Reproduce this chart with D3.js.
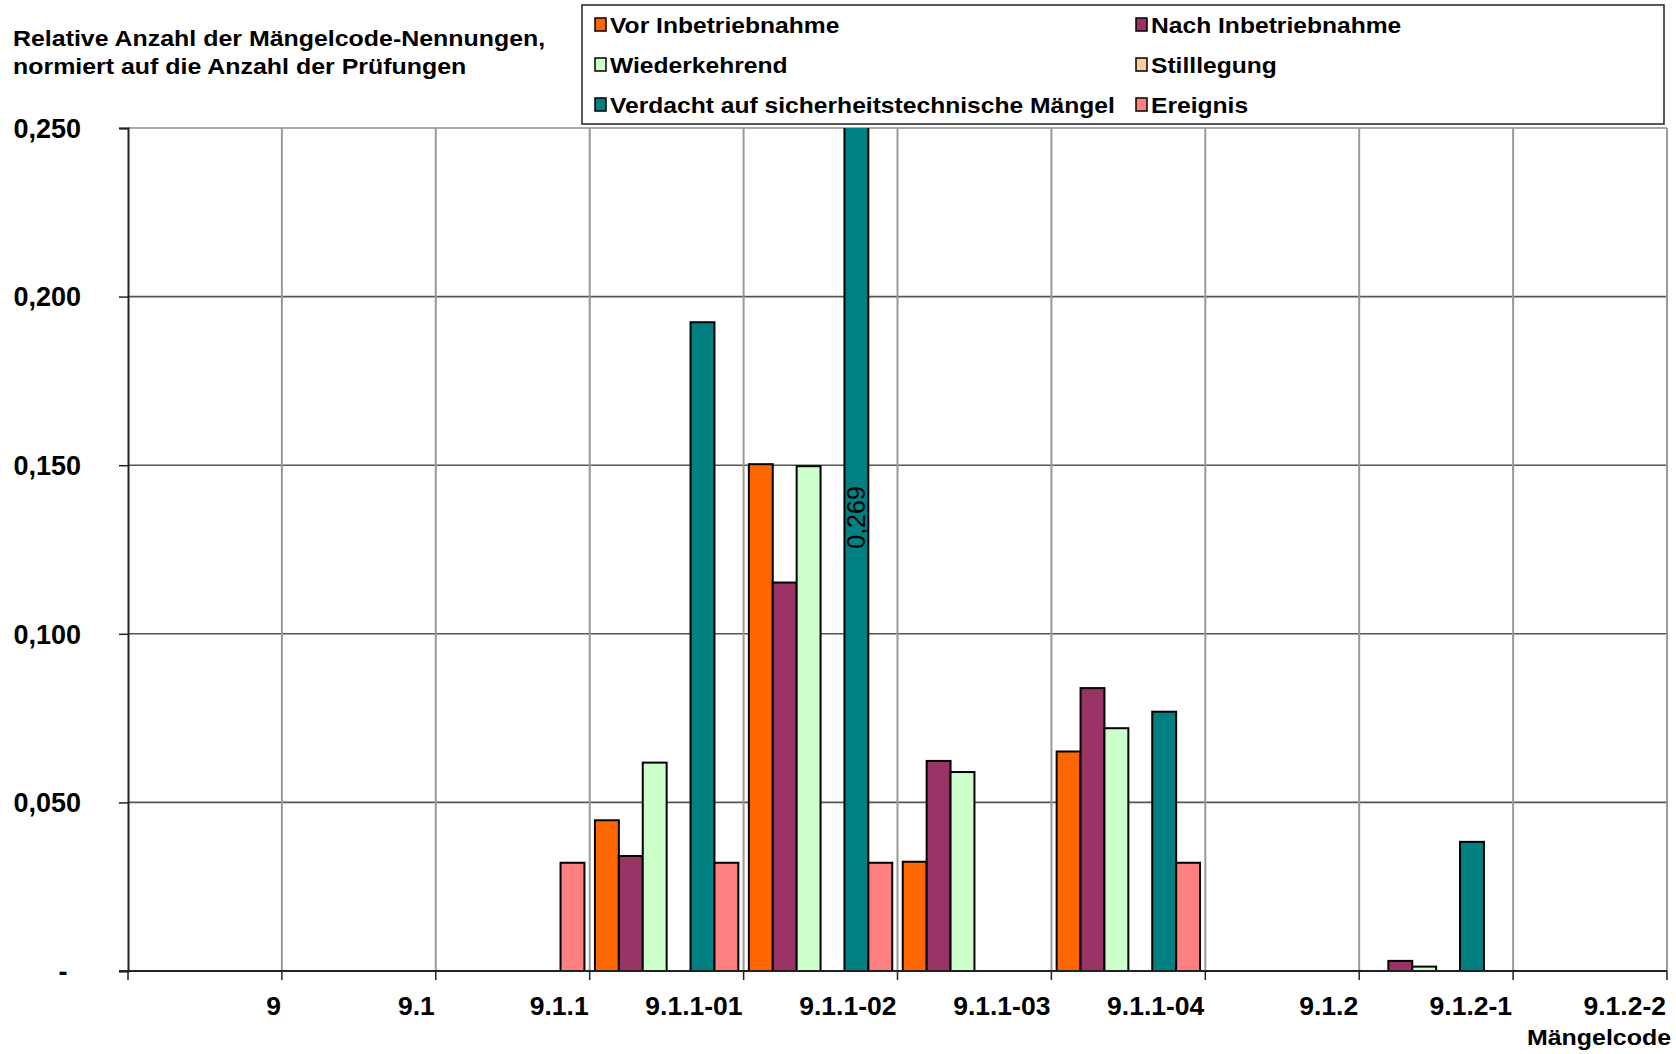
<!DOCTYPE html>
<html lang="de">
<head>
<meta charset="utf-8">
<script src="https://cdn.jsdelivr.net/npm/d3@7"></script>
<style>
  html, body { margin: 0; padding: 0; background: #fff; }
  svg { display: block; font-family: "Liberation Sans", Arial, sans-serif; }
</style>
</head>
<body>
<svg id="chart" width="1676" height="1054"></svg>
<script>
// Mängelcodes (x categories)
const categories = ["9", "9.1", "9.1.1", "9.1.1-01", "9.1.1-02", "9.1.1-03", "9.1.1-04", "9.1.2", "9.1.2-1", "9.1.2-2"];

// Series names, in drawing order within each group
const seriesNames = ["Vor Inbetriebnahme", "Nach Inbetriebnahme", "Wiederkehrend", "Stilllegung",
                     "Verdacht auf sicherheitstechnische Mängel", "Ereignis"];
const seriesColors = ["#FF6600", "#993366", "#CCFFCC", "#FFCC99", "#008080", "#FF8080"];

// Relative Anzahl je Prüfart, one value per Mängelcode
const vorInbetriebnahme  = [0, 0, 0, 0.0447, 0.1503, 0.0324, 0.0651, 0, 0, 0];
const nachInbetriebnahme = [0, 0, 0, 0.0341, 0.1152, 0.0623, 0.0839, 0, 0.0030, 0];
const wiederkehrend      = [0, 0, 0, 0.0618, 0.1497, 0.0590, 0.0720, 0, 0.0013, 0];
const stilllegung        = [0, 0, 0, 0, 0, 0, 0, 0, 0, 0];
const verdacht           = [0, 0, 0, 0.1924, 0.269, 0, 0.0769, 0, 0.0383, 0];
const ereignis           = [0, 0, 0.0321, 0.0321, 0.0321, 0, 0.0321, 0, 0, 0];

const seriesValues = [vorInbetriebnahme, nachInbetriebnahme, wiederkehrend, stilllegung, verdacht, ereignis];

// Value axis ticks
const yTicks = [0, 0.05, 0.10, 0.15, 0.20, 0.25];
const yTickLabels = ["-", "0,050", "0,100", "0,150", "0,200", "0,250"];

// Series with a printed value label
const labelledSeries = 4;
const labelledCategory = "9.1.1-02";

const svg = d3.select("#chart");
const plot = { left: 128, right: 1667, top: 128, bottom: 971 };
const wide = 1.16;        // horizontal stretch of the title lettering
const legendWide = 1.145; // horizontal stretch of the legend lettering

const x0 = d3.scaleBand().domain(categories).range([plot.left, plot.right]).paddingInner(0).paddingOuter(0);
const x1 = d3.scaleBand().domain(d3.range(seriesNames.length)).range([0, x0.bandwidth()])
  .paddingInner(0).paddingOuter(0.22);
const y = d3.scaleLinear().domain([0, 0.25]).range([plot.bottom, plot.top]);

// Horizontal gridlines
svg.append("g").selectAll("line").data(yTicks.slice(1)).join("line")
  .attr("x1", plot.left).attr("x2", plot.right)
  .attr("y1", d => y(d)).attr("y2", d => y(d))
  .attr("stroke", d => d === 0.25 ? "#8c8c8c" : "#555").attr("stroke-width", 1.6);

// Vertical gridlines at category boundaries
const bounds = categories.map(c => x0(c)).concat([plot.right]);
svg.append("g").selectAll("line").data(bounds.slice(1)).join("line")
  .attr("x1", d => d).attr("x2", d => d)
  .attr("y1", plot.top).attr("y2", plot.bottom)
  .attr("stroke", "#999").attr("stroke-width", 2);

// Clip bars to the plot area
svg.append("defs").append("clipPath").attr("id", "plotClip")
  .append("rect").attr("x", plot.left).attr("y", plot.top)
  .attr("width", plot.right - plot.left).attr("height", plot.bottom - plot.top);

const barData = [];
categories.forEach((c, ci) => {
  seriesValues.forEach((vals, si) => {
    if (vals[ci] > 0) barData.push({ c, si, v: vals[ci] });
  });
});

svg.append("g").attr("clip-path", "url(#plotClip)")
  .selectAll("rect").data(barData).join("rect")
  .attr("x", d => x0(d.c) + x1(d.si))
  .attr("width", x1.bandwidth())
  .attr("y", d => y(d.v))
  .attr("height", d => y(0) - y(d.v))
  .attr("fill", d => seriesColors[d.si])
  .attr("stroke", "#000").attr("stroke-width", 2);

// Value label, centred on the full bar
const lv = verdacht[categories.indexOf(labelledCategory)];
const lx = x0(labelledCategory) + x1(labelledSeries) + x1.bandwidth() / 2;
const ly = y(lv / 2);
svg.append("text")
  .attr("transform", `translate(${lx},${ly}) rotate(-90)`)
  .attr("text-anchor", "middle").attr("dy", "0.36em")
  .attr("font-size", 25).attr("fill", "#000")
  .text(String(lv.toFixed(3)).replace(".", ","));

// Y axis
const yAxis = d3.axisLeft(y).tickValues(yTicks).tickSize(9).tickPadding(0).tickFormat(() => "");
const yg = svg.append("g").attr("transform", `translate(${plot.left},0)`).call(yAxis);
yg.select(".domain").attr("stroke", "#222").attr("stroke-width", 2);
yg.selectAll(".tick line").attr("stroke", "#222").attr("stroke-width", 1.5);
svg.append("g").selectAll("text").data(yTicks).join("text")
  .attr("x", (d, i) => i === 0 ? 63 : 81)
  .attr("y", d => y(d))
  .attr("dy", "0.36em")
  .attr("text-anchor", (d, i) => i === 0 ? "middle" : "end")
  .attr("font-size", 27).attr("font-weight", "bold").attr("fill", "#000")
  .text((d, i) => yTickLabels[i]);

// X axis line and boundary ticks
svg.append("line").attr("x1", plot.left - 9).attr("x2", plot.right)
  .attr("y1", plot.bottom).attr("y2", plot.bottom)
  .attr("stroke", "#222").attr("stroke-width", 2);
svg.append("g").selectAll("line").data(bounds).join("line")
  .attr("x1", d => d).attr("x2", d => d)
  .attr("y1", plot.bottom).attr("y2", plot.bottom + 9)
  .attr("stroke", "#222").attr("stroke-width", 1.5);

// Category labels, right-aligned to each group boundary
svg.append("g").selectAll("text").data(categories).join("text")
  .attr("x", c => x0(c) + x0.bandwidth() - 1)
  .attr("y", 1015)
  .attr("text-anchor", "end")
  .attr("font-size", 26.5).attr("font-weight", "bold").attr("fill", "#000")
  .text(c => c);

// Axis titles
svg.append("text").attr("transform", `translate(1671,1045) scale(${wide},1)`).attr("text-anchor", "end")
  .attr("font-size", 21.5).attr("font-weight", "bold").text("Mängelcode");
const title = svg.append("text").attr("transform", `translate(13,0) scale(${wide},1)`)
  .attr("font-size", 21.5).attr("font-weight", "bold");
title.append("tspan").attr("x", 0).attr("y", 46).text("Relative Anzahl der Mängelcode-Nennungen,");
title.append("tspan").attr("x", 0).attr("y", 74).text("normiert auf die Anzahl der Prüfungen");

// Legend
const legend = svg.append("g");
legend.append("rect").attr("x", 582).attr("y", 5).attr("width", 1082).attr("height", 119)
  .attr("fill", "#fff").attr("stroke", "#222").attr("stroke-width", 1.5);
const colX = [595, 1136];
const rowY = [25, 65, 105];
const items = legend.selectAll("g.item").data(seriesNames).join("g").attr("class", "item")
  .attr("transform", (d, i) => `translate(${colX[i % 2]},${rowY[Math.floor(i / 2)]})`);
items.append("rect").attr("x", 0).attr("y", -7).attr("width", 11).attr("height", 13)
  .attr("fill", (d, i) => seriesColors[i]).attr("stroke", "#000").attr("stroke-width", 1.5);
items.append("text").attr("transform", `translate(15,0) scale(${legendWide},1)`).attr("dy", "0.36em")
  .attr("font-size", 21.5).attr("font-weight", "bold").text(d => d);
</script>
</body>
</html>
